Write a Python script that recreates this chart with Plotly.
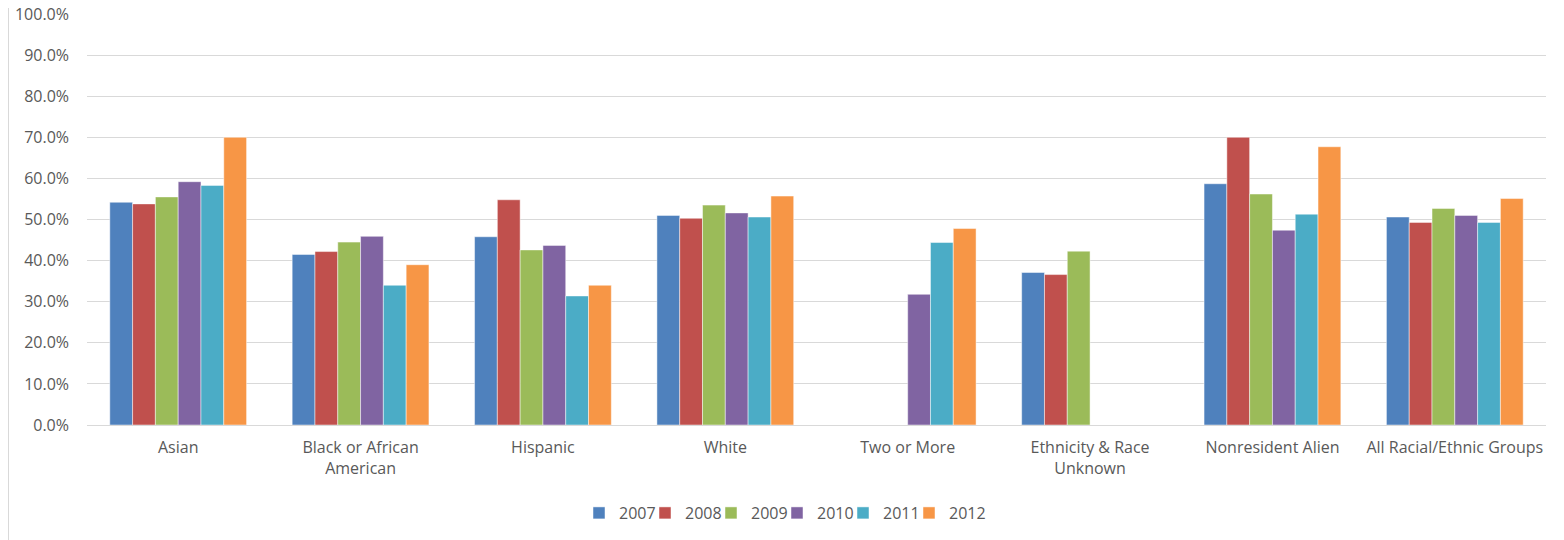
import plotly.graph_objects as go

categories = ["Asian", "Black or African<br>American", "Hispanic", "White", "Two or More",
              "Ethnicity & Race<br>Unknown", "Nonresident Alien", "All Racial/Ethnic Groups"]
years = ["2007", "2008", "2009", "2010", "2011", "2012"]

v2007 = [54.2, 41.5, 45.8, 51.0, None, 37.1, 58.7, 50.6]
v2008 = [53.8, 42.2, 54.8, 50.3, None, 36.6, 70.0, 49.3]
v2009 = [55.5, 44.5, 42.6, 53.5, None, 42.3, 56.2, 52.7]
v2010 = [59.2, 45.9, 43.7, 51.6, 31.8, None, 47.4, 51.0]
v2011 = [58.3, 34.0, 31.4, 50.6, 44.4, None, 51.3, 49.3]
v2012 = [70.0, 39.0, 34.0, 55.7, 47.8, None, 67.7, 55.1]

series = [v2007, v2008, v2009, v2010, v2011, v2012]
colors = ["#4F81BD", "#C0504D", "#9BBB59", "#8064A2", "#4BACC6", "#F79646"]

# the page body has an 8px margin, so the figure is sized/offset to compensate
W, H = 1556, 532
ml, mr, mt, mb = 79, 18, 6, 115

font_family = "Open Sans, Noto Sans, sans-serif"
legend_names = ["legend"] + ["legend%d" % i for i in range(2, 7)]

fig = go.Figure()
for i, (y, vals, c) in enumerate(zip(years, series, colors)):
    fig.add_trace(go.Bar(
        x=categories, y=vals, name=y, legend=legend_names[i],
        marker=dict(color=c, line=dict(color="rgba(255,255,255,0.6)", width=0.8)),
    ))

legend_start = 571
legend_step = 66
legends = {}
for i, ln in enumerate(legend_names):
    legends[ln] = dict(orientation="h", xref="container", yref="container",
                       x=(legend_start + legend_step * i) / W, xanchor="left",
                       y=(H - 505) / H, yanchor="middle",
                       font=dict(size=16, color="#595959"),
                       itemwidth=30, itemclick=False, bgcolor="rgba(0,0,0,0)")

fig.update_layout(
    width=W, height=H,
    margin=dict(l=ml, r=mr, t=mt, b=mb, pad=0, autoexpand=False),
    paper_bgcolor="white", plot_bgcolor="white",
    barmode="group", bargap=0.25, bargroupgap=0,
    font=dict(family=font_family, size=16, color="#595959"),
    showlegend=True,
    xaxis=dict(showgrid=False, showline=True, linecolor="#d9d9d9", linewidth=1,
               ticks="", tickfont=dict(size=16, color="#595959"),
               ticklabelstandoff=8, fixedrange=True, automargin=False),
    yaxis=dict(range=[0, 100], dtick=10, tick0=0, showgrid=True, gridcolor="#d9d9d9",
               gridwidth=1, zeroline=False, showline=False, ticks="",
               tickformat=".1f", ticksuffix="%", tickfont=dict(size=16, color="#595959"),
               ticklabelstandoff=17, ticklabeloverflow="allow",
               fixedrange=True, automargin=False),
    shapes=[dict(type="line", xref="paper", yref="paper",
                 x0=(0.5 - ml) / (W - ml - mr), x1=(0.5 - ml) / (W - ml - mr),
                 y0=-mb / (H - mt - mb), y1=1 + mt / (H - mt - mb),
                 line=dict(color="#d9d9d9", width=1))],
    **legends,
)

fig.write_html("out.html")
